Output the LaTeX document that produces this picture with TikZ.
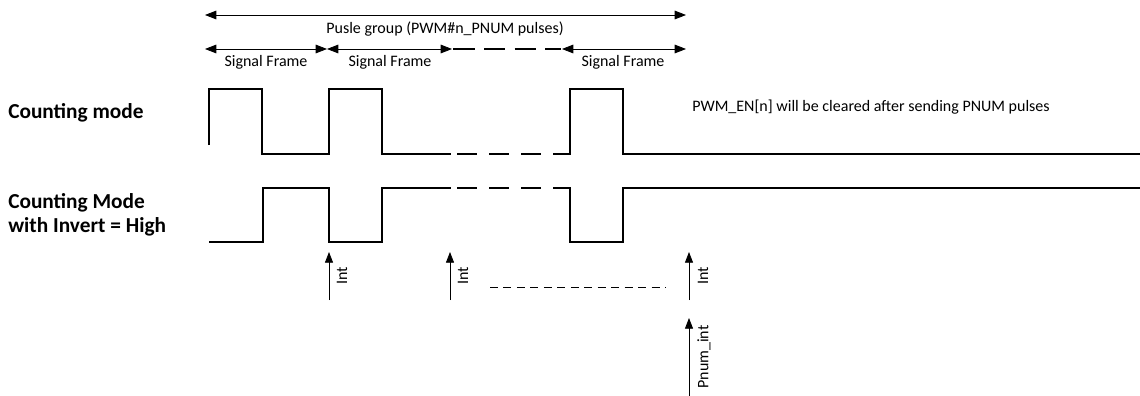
\documentclass[tikz,border=0pt]{standalone}
\usepackage{fontspec}
\setmainfont{Carlito}
\usetikzlibrary{arrows.meta}
\begin{document}
\begin{tikzpicture}[x=0.75pt,y=-0.75pt,
  wave/.style={line width=1.6pt,line join=miter},
  span/.style={line width=0.6pt,{Triangle[length=8.5pt,width=6.5pt]}-{Triangle[length=8.5pt,width=6.5pt]}},
  intarrow/.style={line width=0.6pt,-{Triangle[length=8pt,width=6pt]}},
  lbl/.style={font=\fontsize{12}{14}\selectfont,inner sep=0pt},
  mode/.style={font=\fontsize{16}{18}\selectfont\bfseries,inner sep=0pt,align=left,anchor=west}]
\useasboundingbox (0,0) rectangle (1140,396);
% spans
\coordinate (g0) at (205,15); \coordinate (g1) at (686,15);
\draw[span] (g0) -- (g1);
\node[lbl] (grp) at (445,29) {Pusle group (PWM\#n\_PNUM pulses)};
\coordinate (f0) at (205,49); \coordinate (f1) at (327,49);
\coordinate (f2) at (452,49); \coordinate (f3) at (562,49); \coordinate (f4) at (686,49);
\draw[span] (f0) -- (f1);
\draw[span] (f1) -- (f2);
\draw[span] (f3) -- (f4);
\draw[line width=1.6pt,dash pattern=on 16pt off 7pt] ([xshift=1pt]f2) -- ([xshift=-1pt]f3);
\node[lbl] (sf1) at (266,62) {Signal Frame};
\node[lbl] (sf2) at (390,62) {Signal Frame};
\node[lbl] (sf3) at (623,62) {Signal Frame};
% mode labels
\node[mode] (m1) at (8,113) {Counting mode};
\node[mode] (m2) at (8,215) {Counting Mode\\with Invert = High};
% waveform 1
\draw[wave] (209,145) -- (209,89) -- (262,89) -- (262,154) -- (329,154) -- (329,89) -- (382,89) -- (382,154) -- (451,154);
\draw[wave] (457,154) -- (477,154) (489,154) -- (509,154) (521,154) -- (541,154);
\draw[wave] (553,154) -- (570,154) -- (570,89) -- (623,89) -- (623,154) -- (1140,154);
\node[lbl,anchor=west] (en) at (692,107) {PWM\_EN[n] will be cleared after sending PNUM pulses};
% waveform 2
\draw[wave] (209,242) -- (263,242) -- (263,188) -- (329,188) -- (329,242) -- (382,242) -- (382,188) -- (451,188);
\draw[wave] (457,188) -- (477,188) (489,188) -- (509,188) (521,188) -- (541,188);
\draw[wave] (553,188) -- (570,188) -- (570,242) -- (623,242) -- (623,188) -- (1140,188);
% interrupts
\coordinate (i1a) at (329,300); \coordinate (i1b) at (329,252);
\coordinate (i2a) at (450,300); \coordinate (i2b) at (450,252);
\coordinate (i3a) at (689,300); \coordinate (i3b) at (689,252);
\coordinate (p0) at (689,396); \coordinate (p1) at (689,318);
\draw[intarrow] (i1a) -- (i1b);
\draw[intarrow] (i2a) -- (i2b);
\draw[intarrow] (i3a) -- (i3b);
\draw[intarrow] (p0) -- (p1);
\node[lbl,rotate=90] (t1) at (342,276) {Int};
\node[lbl,rotate=90] (t2) at (463,276) {Int};
\node[lbl,rotate=90] (t3) at (703,276) {Int};
\node[lbl,rotate=90] (t4) at (704,357) {Pnum\_int};
\coordinate (d0) at (490,287); \coordinate (d1) at (666,287);
\draw[line width=0.6pt,dash pattern=on 6pt off 4.1pt] (d0) -- (d1);
\end{tikzpicture}
\end{document}
